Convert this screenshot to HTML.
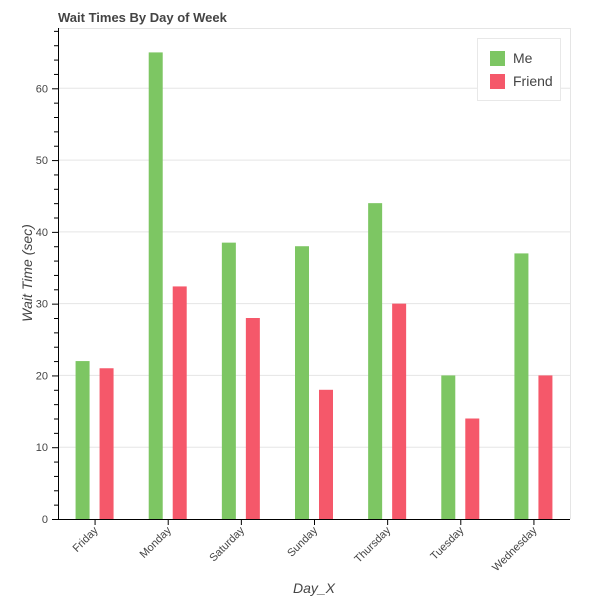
<!DOCTYPE html>
<html><head><meta charset="utf-8"><style>
body{margin:0;background:#fff;font-family:"Liberation Sans",Arial,sans-serif}
svg text{font-family:"Liberation Sans",Arial,sans-serif}
</style></head><body>
<svg id="c" width="600" height="600" xmlns="http://www.w3.org/2000/svg">
<rect width="600" height="600" fill="#fff"/>
<text x="58" y="22" font-size="13" font-weight="bold" fill="#444">Wait Times By Day of Week</text>
<g id="grid"></g><g id="bars"></g><g id="axes"></g>
<text transform="translate(32,273) rotate(-90)" text-anchor="middle" font-size="14" font-style="italic" fill="#444">Wait Time (sec)</text>
<text x="314" y="593" text-anchor="middle" font-size="14" font-style="italic" fill="#444">Day_X</text>
<g>
<rect x="477.5" y="38.5" width="83" height="62" fill="#fff" stroke="#e8e8e8"/>
<rect x="490" y="51" width="15" height="15" fill="#7dc663"/>
<text x="513" y="63" font-size="14" fill="#444">Me</text>
<rect x="490" y="74" width="15" height="15" fill="#f5586a"/>
<text x="513" y="86" font-size="14" fill="#444">Friend</text>
</g>
</svg>
<script>
const categories=["Friday","Monday","Saturday","Sunday","Thursday","Tuesday","Wednesday"];
const meValues=[22,65,38.5,38,44,20,37];
const friendValues=[21,32.4,28,18,30,14,20];
const yTicks=[0,10,20,30,40,50,60];
const NS="http://www.w3.org/2000/svg";
const L=58,R=570,T=28,B=519,yMax=68.4;
const y=v=>B-(v/yMax)*(B-T);
const bw=(R-L)/categories.length;
const x=i=>L+bw*(i+0.5);
function mk(tag,at,parent){const e=document.createElementNS(NS,tag);for(const k in at)e.setAttribute(k,at[k]);document.getElementById(parent).appendChild(e);return e;}
// grid
yTicks.forEach(t=>{if(t===0)return;const g=mk('line',{x1:L,x2:R,y1:y(t),y2:y(t),stroke:'#e5e5e5'},'grid');

});
mk('line',{x1:R+0.5,x2:R+0.5,y1:T,y2:B,stroke:'#e5e5e5'},'grid');
mk('line',{x1:L,x2:R,y1:T+0.5,y2:T+0.5,stroke:'#e5e5e5'},'grid');
// bars
categories.forEach((c,i)=>{
 const a=mk('rect',{x:x(i)-12-7,y:y(meValues[i]),width:14,height:B-y(meValues[i]),fill:'#7dc663'},'bars');
 
 
 const b=mk('rect',{x:x(i)+12-7,y:y(friendValues[i]),width:14,height:B-y(friendValues[i]),fill:'#f5586a'},'bars');
 
 
});
// axes
mk('line',{x1:L+0.5,x2:L+0.5,y1:T,y2:B+0.5,stroke:'#000'},'axes');
mk('line',{x1:L,x2:R,y1:B+0.5,y2:B+0.5,stroke:'#000'},'axes');
for(let v=0;v<=yMax;v+=2){const maj=v%10===0;mk('line',{x1:L-(maj?6:4),x2:L,y1:y(v)+0.5,y2:y(v)+0.5,stroke:'#000'},'axes');}
yTicks.forEach(t=>{const tx=mk('text',{x:L-10,y:y(t)+4,'text-anchor':'end','font-size':11,fill:'#444'},'axes');tx.textContent=t;

});
categories.forEach((c,i)=>{
 mk('line',{x1:x(i)+0.5,x2:x(i)+0.5,y1:B,y2:B+6,stroke:'#000'},'axes');
 const tx=mk('text',{transform:`translate(${x(i)+4},${B+12}) rotate(-45)`,'text-anchor':'end','font-size':11,fill:'#444'},'axes');
 tx.textContent=c;
 
 
});
</script>
</body></html>
